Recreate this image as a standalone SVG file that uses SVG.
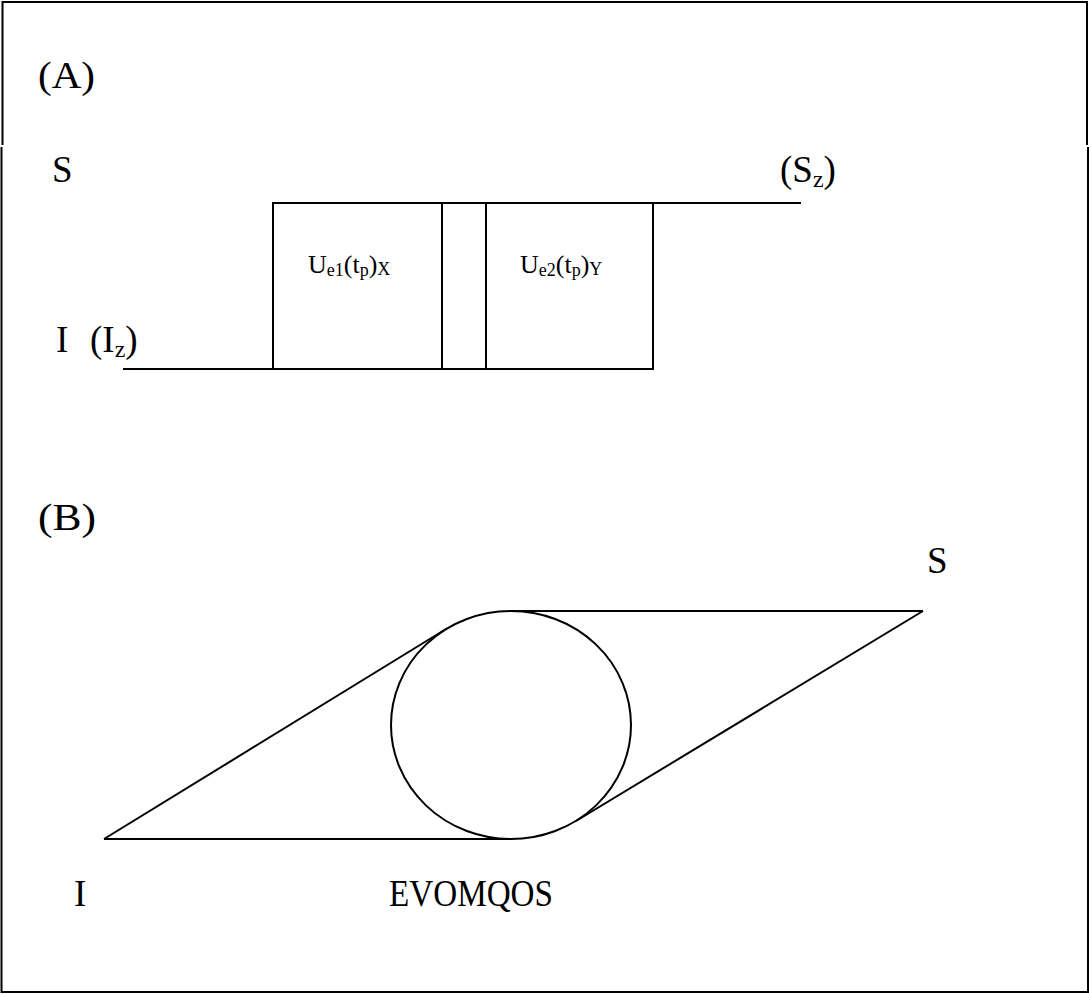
<svg xmlns="http://www.w3.org/2000/svg" width="1089" height="994" viewBox="0 0 1089 994">
<style>
.ln{stroke:#000;stroke-width:2;fill:none}
text{font-family:'Liberation Serif','DejaVu Serif',serif;fill:#000}
.t{font-size:37px}
.s{font-size:26px}
.sub{font-size:18px}
.bsub{font-size:24px}
</style>
<rect width="1089" height="994" fill="#fff"/>
<g id="frame">
<polyline class="ln" points="2.5,145 2.5,2 1087,2 1087,145"/>
<polyline class="ln" points="1.5,147 1.5,992 1088,992 1088,147"/>
</g>
<g id="labelA"><text class="t" x="38" y="88" textLength="57" lengthAdjust="spacingAndGlyphs">(A)</text></g>
<g id="labelS1"><text class="t" x="52" y="182">S</text></g>
<g id="labelSz"><text class="t" x="780" y="182">(S<tspan class="bsub" dy="5">z</tspan><tspan dy="-5">)</tspan></text></g>
<g id="labelI1"><text class="t" x="56" y="352">I<tspan x="90">(I</tspan><tspan class="bsub" dy="5">z</tspan><tspan dy="-5">)</tspan></text></g>
<g id="box1">
<rect class="ln" x="273" y="203" width="169" height="166"/>
<text class="s" x="308" y="273">U<tspan class="sub" dy="3">e1</tspan><tspan dy="-3">(t</tspan><tspan class="sub" dy="3">p</tspan><tspan dy="-3">)</tspan><tspan class="sub" dy="2">X</tspan></text>
</g>
<g id="box2">
<rect class="ln" x="486" y="203" width="167" height="166"/>
<text class="s" x="520" y="273">U<tspan class="sub" dy="3">e2</tspan><tspan dy="-3">(t</tspan><tspan class="sub" dy="3">p</tspan><tspan dy="-3">)</tspan><tspan class="sub" dy="2">Y</tspan></text>
</g>
<g id="labelB"><text class="t" x="38" y="530" textLength="58" lengthAdjust="spacingAndGlyphs">(B)</text></g>
<g id="labelS2"><text class="t" x="927" y="573">S</text></g>
<g id="labelI2"><text class="t" x="74" y="906">I</text></g>
<g id="labelEVOMQOS"><text class="t" x="389" y="906" textLength="164" lengthAdjust="spacingAndGlyphs">EVOMQOS</text></g>
<g id="circle"><ellipse class="ln" cx="511" cy="725" rx="120" ry="114"/></g>
<g id="connectors">
<line class="ln" x1="273" y1="203" x2="801" y2="203"/>
<line class="ln" x1="123" y1="369" x2="653" y2="369"/>
<line class="ln" x1="511" y1="611" x2="923" y2="611"/>
<line class="ln" x1="923" y1="611" x2="576" y2="821"/>
<line class="ln" x1="104" y1="839" x2="446" y2="629"/>
<line class="ln" x1="104" y1="839" x2="511" y2="839"/>
</g>
</svg>
